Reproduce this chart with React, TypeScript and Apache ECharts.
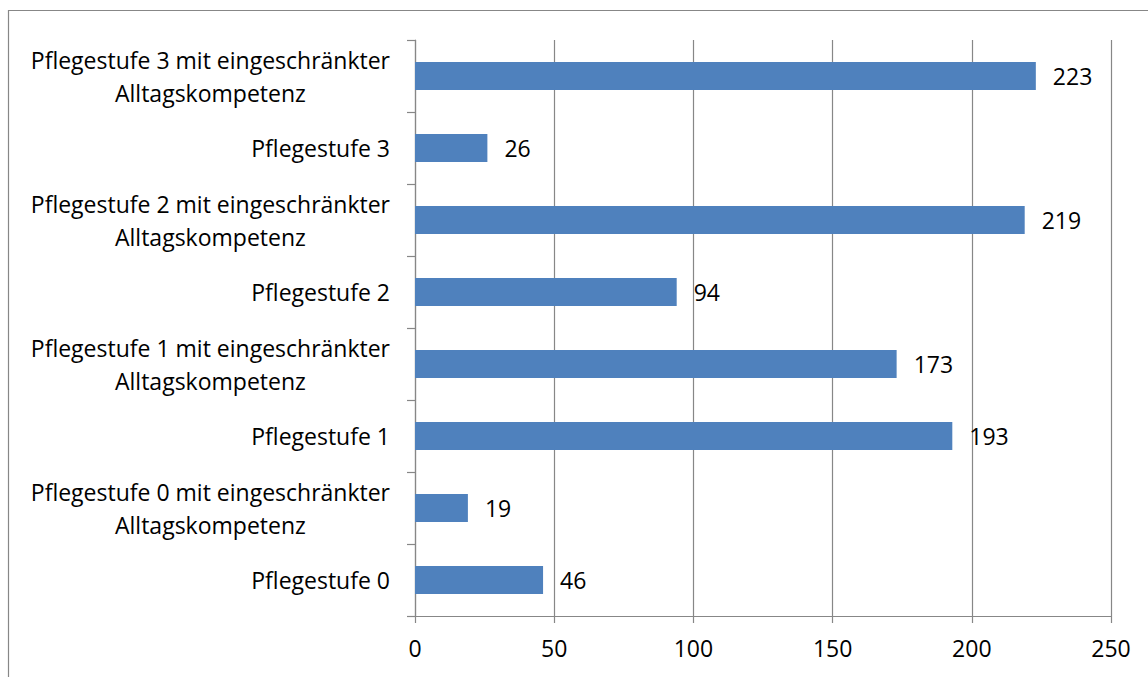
import React, { useEffect, useRef } from "react";
import * as echarts from "echarts";

// Categories listed bottom to top (ECharts category axis order)
const categories: string[][] = [
  ["Pflegestufe 0"],
  ["Pflegestufe 0 mit eingeschränkter", "Alltagskompetenz"],
  ["Pflegestufe 1"],
  ["Pflegestufe 1 mit eingeschränkter", "Alltagskompetenz"],
  ["Pflegestufe 2"],
  ["Pflegestufe 2 mit eingeschränkter", "Alltagskompetenz"],
  ["Pflegestufe 3"],
  ["Pflegestufe 3 mit eingeschränkter", "Alltagskompetenz"],
];
const values: number[] = [46, 19, 193, 173, 94, 219, 26, 223];

const AXIS_MIN = 0;
const AXIS_MAX = 250;
const AXIS_STEP = 50;

const FONT = "'Open Sans', Lato, sans-serif";
const FONT_SIZE = 23;
const GREY = "#878787";
const BAR = "#4F81BD";

export default function App() {
  const ref = useRef<HTMLDivElement>(null);

  useEffect(() => {
    if (!ref.current) return;
    const chart = echarts.init(ref.current, undefined, { renderer: "svg" });
    chart.setOption({
      animation: false,
      backgroundColor: "#ffffff",
      textStyle: { fontFamily: FONT, color: "#000" },
      graphic: [
        {
          type: "rect",
          shape: { x: 8.5, y: 10.5, width: 1300, height: 800 },
          style: { fill: "none", stroke: GREY, lineWidth: 1.2 },
          silent: true,
        },
      ],
      grid: { left: 415, right: 37, top: 40, bottom: 61, containLabel: false },
      xAxis: {
        type: "value",
        min: AXIS_MIN,
        max: AXIS_MAX,
        interval: AXIS_STEP,
        axisLine: { show: true, lineStyle: { color: GREY, width: 1.2 } },
        axisTick: { show: true, length: 7, lineStyle: { color: GREY, width: 1.2 } },
        splitLine: { show: true, lineStyle: { color: GREY, width: 1.2 } },
        axisLabel: { fontSize: FONT_SIZE, color: "#000", margin: 20, fontFamily: FONT },
      },
      yAxis: {
        type: "category",
        data: categories.map((c) => c.join("\n")),
        axisLine: { show: true, lineStyle: { color: GREY, width: 1.2 } },
        axisTick: { show: true, length: 8, alignWithLabel: false, lineStyle: { color: GREY, width: 1.2 } },
        splitLine: { show: false },
        axisLabel: {
          margin: 25,
          fontSize: FONT_SIZE,
          lineHeight: 33,
          color: "#000",
          fontFamily: FONT,
          formatter: (v: string) =>
            v
              .split("\n")
              .map((line) => `{c|${line}}`)
              .join("\n"),
          rich: {
            c: { align: "center", fontSize: FONT_SIZE, lineHeight: 33, fontFamily: FONT, color: "#000" },
          },
        },
      },
      series: [
        {
          type: "bar",
          data: values,
          barWidth: 28,
          itemStyle: { color: BAR },
          label: {
            show: true,
            position: "right",
            distance: 17,
            fontSize: FONT_SIZE,
            color: "#000",
            fontFamily: FONT,
          },
        },
      ],
    });
    return () => chart.dispose();
  }, []);

  return (
    <div
      ref={ref}
      style={{ position: "absolute", left: 0, top: 0, width: 1148, height: 677 }}
    />
  );
}
